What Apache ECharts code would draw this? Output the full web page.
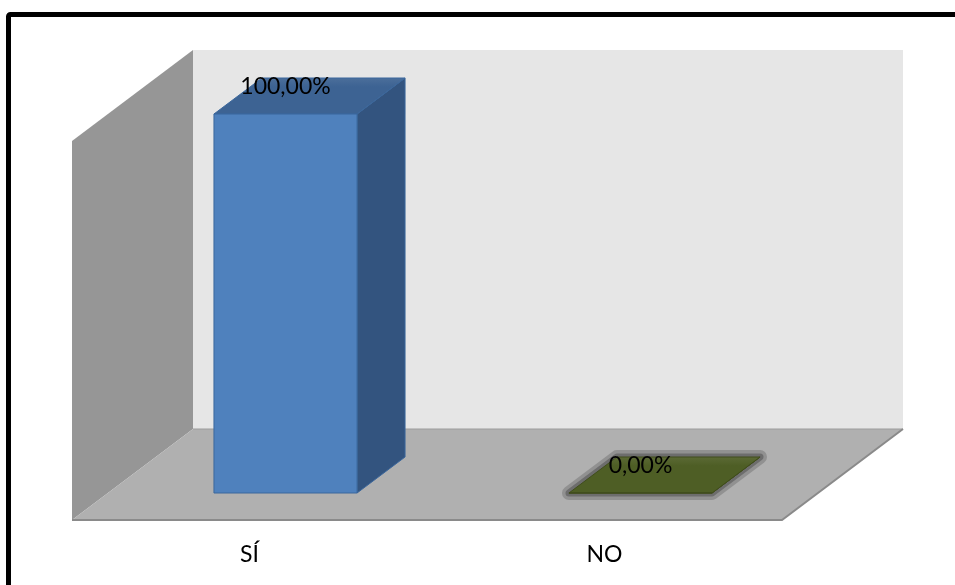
<!DOCTYPE html>
<html>
<head>
<meta charset="utf-8">
<script src="https://cdn.jsdelivr.net/npm/echarts@6/dist/echarts.min.js"></script>
<style>
  html, body { margin: 0; padding: 0; background: #ffffff; }
  #chart { width: 955px; height: 585px; }
</style>
</head>
<body>
<div id="chart"></div>
<script>
// ---- data ----
const categories = ['SÍ', 'NO'];
const percentages = [100, 0];
const valueAxisMax = 100;

// ---- colours per category: front face, top face, right face ----
const frontColors = ['#4f81bd', '#4b5a21'];
const topColors = ['#3d6393', '#4e5e25'];
const sideColors = ['#33547f', '#3e4b1a'];
const edgeColors = ['#3b679c', '#404d1c'];

// ---- 3D box geometry (pixel offsets relative to the plane of the bar fronts) ----
const BAR_DEPTH = [48, -36];
const FLOOR_FRONT = [-36, 27];
const WALL_BACK = [85, -64];
const BAR_WIDTH_RATIO = 0.403;
const FONT = '23px Lato, "Liberation Sans", sans-serif';

const plotBox = { left: 108, top: 114, width: 710, height: 379 };
const frontBox = {
  left: plotBox.left + FLOOR_FRONT[0],
  top: plotBox.top + FLOOR_FRONT[1],
  width: plotBox.width,
  height: plotBox.height
};

function fmtPercent(v) {
  return v.toFixed(2).replace('.', ',') + '%';
}

// Back wall, side wall and floor of the 3D chart box
function renderWalls(params, api) {
  const cs = params.coordSys;
  const x0 = cs.x, x1 = cs.x + cs.width, yT = cs.y, yB = cs.y + cs.height;
  const b = { l: x0 + WALL_BACK[0], r: x1 + WALL_BACK[0], t: yT + WALL_BACK[1], bt: yB + WALL_BACK[1] };
  const f = { l: x0 + FLOOR_FRONT[0], r: x1 + FLOOR_FRONT[0], t: yT + FLOOR_FRONT[1], bt: yB + FLOOR_FRONT[1] };
  return {
    type: 'group',
    children: [
      { type: 'polygon', shape: { points: [[b.l, b.t], [b.r, b.t], [b.r, b.bt], [b.l, b.bt]] },
        style: { fill: '#e6e6e6' } },
      { type: 'polygon', shape: { points: [[b.l, b.t], [b.l, b.bt], [f.l, f.bt], [f.l, f.t]] },
        style: { fill: '#969696' } },
      { type: 'polygon', shape: { points: [[b.l, b.bt], [b.r, b.bt], [f.r, f.bt], [f.l, f.bt]] },
        style: { fill: '#b0b0b0' } },
      { type: 'polyline', shape: { points: [[b.l, b.bt], [b.r, b.bt]] },
        style: { stroke: '#9c9c9c', lineWidth: 1, fill: null } },
      { type: 'polyline', shape: { points: [[f.l, f.bt], [f.r, f.bt], [b.r, b.bt]] },
        style: { stroke: '#8a8a8a', lineWidth: 2, fill: null } }
    ]
  };
}

// One 3D column per category
function renderBar(params, api) {
  const i = params.dataIndex;
  const cat = api.value(0);
  const v = api.value(1);
  const top = api.coord([cat, v]);
  const base = api.coord([cat, 0]);
  const w = api.size([1, 0])[0] * BAR_WIDTH_RATIO;
  const xl = top[0] - w / 2, xr = top[0] + w / 2;
  const dx = BAR_DEPTH[0], dy = BAR_DEPTH[1];
  const ty = top[1], by = base[1];
  const footprint = [[xl, by], [xl + dx, by + dy], [xr + dx, by + dy], [xr, by]];
  const children = [];
  if (v === 0) {
    // flat column: soft grey halo around its footprint
    children.push(
      { type: 'polygon', shape: { points: footprint },
        style: { fill: 'none', stroke: 'rgba(90,90,90,0.35)', lineWidth: 14, lineJoin: 'round' } },
      { type: 'polygon', shape: { points: footprint },
        style: { fill: 'none', stroke: 'rgba(80,80,80,0.55)', lineWidth: 7, lineJoin: 'round' } }
    );
  }
  children.push(
    { type: 'polygon',
      shape: { points: [[xr, ty], [xr + dx, ty + dy], [xr + dx, by + dy], [xr, by]] },
      style: { fill: sideColors[i], stroke: edgeColors[i], lineWidth: 1 } },
    { type: 'polygon',
      shape: { points: [[xl, ty], [xl + dx, ty + dy], [xr + dx, ty + dy], [xr, ty]] },
      style: {
        fill: {
          type: 'linear', x: 0, y: 0, x2: 0, y2: 1,
          colorStops: [
            { offset: 0, color: echarts.color.lift(topColors[i], 0.08) },
            { offset: 0.25, color: topColors[i] },
            { offset: 1, color: topColors[i] }
          ]
        },
        stroke: edgeColors[i], lineWidth: 1
      } },
    { type: 'rect',
      shape: { x: xl, y: ty, width: w, height: by - ty },
      style: { fill: frontColors[i], stroke: edgeColors[i], lineWidth: 1 } },
    { type: 'text',
      style: { text: fmtPercent(v), x: top[0], y: ty - 27, align: 'center', verticalAlign: 'middle',
               font: FONT, fill: '#000000' } }
  );
  return { type: 'group', children: children };
}

const chart = echarts.init(document.getElementById('chart'), null, { renderer: 'canvas' });
chart.setOption({
  backgroundColor: '#ffffff',
  animation: false,
  graphic: [{
    type: 'rect', z: 100,
    shape: { x: 8.5, y: 14.5, width: 1000, height: 700, r: 2 },
    style: { fill: null, stroke: '#000000', lineWidth: 5 }
  }],
  grid: [
    { left: plotBox.left, top: plotBox.top, width: plotBox.width, height: plotBox.height },
    { left: frontBox.left, top: frontBox.top, width: frontBox.width, height: frontBox.height }
  ],
  xAxis: [
    { type: 'category', gridIndex: 0, data: categories, show: false },
    { type: 'category', gridIndex: 1, data: categories,
      axisLine: { show: false }, axisTick: { show: false }, splitLine: { show: false },
      axisLabel: { margin: 23, fontSize: 23, lineHeight: 24, color: '#000000',
                   fontFamily: 'Lato, "Liberation Sans", sans-serif' } }
  ],
  yAxis: [
    { type: 'value', gridIndex: 0, min: 0, max: valueAxisMax, show: false },
    { type: 'value', gridIndex: 1, min: 0, max: valueAxisMax, show: false }
  ],
  series: [
    { type: 'custom', name: 'walls', xAxisIndex: 0, yAxisIndex: 0, z: 1, clip: false, silent: true,
      renderItem: renderWalls, data: [[0, 0]] },
    { type: 'custom', name: 'porcentaje', xAxisIndex: 0, yAxisIndex: 0, z: 2, clip: false,
      renderItem: renderBar,
      data: categories.map((c, i) => [i, percentages[i]]) }
  ]
});
</script>
</body>
</html>
